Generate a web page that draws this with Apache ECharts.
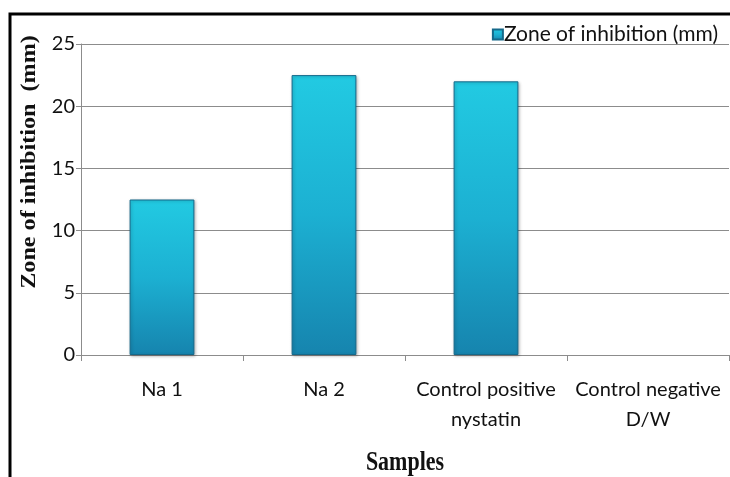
<!DOCTYPE html>
<html>
<head>
<meta charset="utf-8">
<script src="https://cdn.jsdelivr.net/npm/echarts@6/dist/echarts.min.js"></script>
<style>
  html, body { margin: 0; padding: 0; background: #fff; }
  #chart { width: 730px; height: 477px; }
</style>
</head>
<body>
<div id="chart"></div>
<script>
// Sample names and the measured inhibition zones (mm)
const categories = ['Na 1', 'Na 2', 'Control positive\nnystatin', 'Control negative\nD/W'];
const zoneValues = [12.5, 22.5, 22, 0];
const seriesName = 'Zone of inhibition (mm)';
const yTicks = { min: 0, max: 25, interval: 5 };

const chart = echarts.init(document.getElementById('chart'));

const barFill = new echarts.graphic.LinearGradient(0, 0, 0, 1, [
  { offset: 0, color: '#22cae2' },
  { offset: 0.5, color: '#1cb0d2' },
  { offset: 1, color: '#1684ae' }
]);

// a zero-height bar gets no outline, so nothing is drawn for it
const barData = zoneValues.map(v => ({
  value: v,
  itemStyle: v === 0 ? { borderWidth: 0, shadowBlur: 0, shadowOffsetX: 0, shadowOffsetY: 0 } : {}
}));

chart.setOption({
  animation: false,
  backgroundColor: '#fff',
  textStyle: { fontFamily: 'Lato' },
  grid: { left: 81, right: 1, top: 44, bottom: 122 },
  legend: {
    right: 7,
    top: 19,
    itemWidth: 10,
    itemHeight: 10,
    itemGap: 4,
    icon: 'rect',
    textStyle: { fontFamily: 'Lato', fontSize: 21, color: '#111', padding: [0, 0, 0, -4] },
    data: [seriesName]
  },
  xAxis: {
    type: 'category',
    data: categories,
    axisLine: { show: true, lineStyle: { color: '#8c8c8c', width: 1 } },
    axisTick: { show: true, length: 6, lineStyle: { color: '#8c8c8c' } },
    axisLabel: { fontFamily: 'Lato', fontSize: 20, color: '#111', margin: 20, lineHeight: 30, interval: 0 }
  },
  yAxis: {
    type: 'value',
    min: yTicks.min,
    max: yTicks.max,
    interval: yTicks.interval,
    axisLine: { show: true, lineStyle: { color: '#8c8c8c', width: 1 } },
    axisTick: { show: true, length: 5, lineStyle: { color: '#8c8c8c' } },
    axisLabel: { fontFamily: 'Lato', fontSize: 20, color: '#111', margin: 6 },
    splitLine: { show: true, lineStyle: { color: '#8c8c8c', width: 1 } }
  },
  series: [{
    name: seriesName,
    type: 'bar',
    data: barData,
    barWidth: '40%',
    itemStyle: {
      color: barFill,
      borderColor: '#15698a',
      borderWidth: 1,
      shadowColor: 'rgba(0,0,0,0.25)',
      shadowBlur: 3,
      shadowOffsetX: 1,
      shadowOffsetY: 1
    }
  }],
  graphic: [
    {
      type: 'polyline',
      shape: { points: [[10, 480], [10, 14], [732, 14]] },
      style: { stroke: '#000', lineWidth: 3, fill: null },
      silent: true
    },
    {
      // vertical axis title, stretched along its length
      type: 'text',
      x: 30,
      y: 162,
      rotation: Math.PI / 2,
      scaleX: 1.15,
      style: {
        text: 'Zone of inhibition  (mm)',
        fontFamily: 'Liberation Serif',
        fontWeight: 'bold',
        fontSize: 21,
        fill: '#111',
        align: 'center',
        verticalAlign: 'middle'
      },
      silent: true
    },
    {
      // horizontal axis title, stretched in height
      type: 'text',
      x: 405,
      y: 463,
      scaleY: 1.2,
      style: {
        text: 'Samples',
        fontFamily: 'Liberation Serif',
        fontWeight: 'bold',
        fontSize: 22,
        fill: '#111',
        align: 'center',
        verticalAlign: 'middle'
      },
      silent: true
    }
  ]
});
</script>
</body>
</html>
